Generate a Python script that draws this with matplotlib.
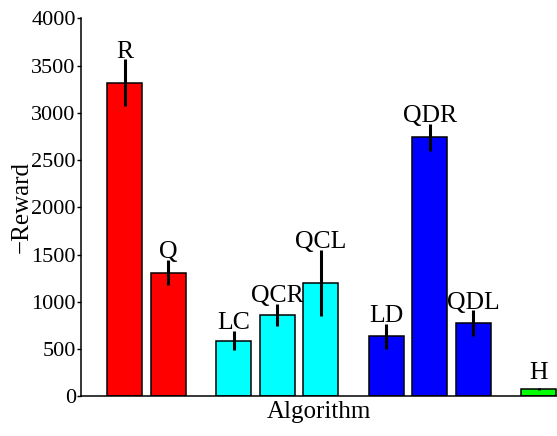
import matplotlib
matplotlib.use("Agg")
import matplotlib.pyplot as plt

plt.rcParams['font.family'] = ['Liberation Serif', 'DejaVu Serif']

names = ["R", "Q", "LC", "QCR", "QCL", "LD", "QDR", "QDL", "H"]
positions = [1, 2, 3.5, 4.5, 5.5, 7, 8, 9, 10.5]
rewards = [3320, 1310, 590, 860, 1200, 635, 2740, 775, 80]
errors = [245, 137, 100, 114, 350, 134, 140, 134, 8]
colors = ["#ff0000", "#ff0000", "#00ffff", "#00ffff", "#00ffff",
          "#0000ff", "#0000ff", "#0000ff", "#00ff00"]
yticks = [0, 500, 1000, 1500, 2000, 2500, 3000, 3500, 4000]

fig = plt.figure(figsize=(5.57, 4.36), dpi=100)
ax = fig.add_axes([0.146, 0.091, 0.854, 0.867])

ax.bar(positions, rewards, width=0.8, color=colors, edgecolor="black", linewidth=1.1)
ax.errorbar(positions, rewards, yerr=errors, fmt="none", ecolor="black",
            elinewidth=2.2, capsize=0)
for x, v, e, n in zip(positions, rewards, errors, names):
    # label sits just above the error bar (H's bar is tiny, keep it clear)
    top = max(v + e, 160)
    ax.text(x, top + 20, n, ha="center", va="baseline", fontsize=18.5)

ax.set_xlim(0, 10.92)
ax.set_ylim(0, 4000)
ax.set_yticks(yticks)
ax.set_xticks([])
ax.tick_params(axis="y", labelsize=16, direction="out", length=3, width=1, pad=1)
ax.spines["top"].set_visible(False)
ax.spines["right"].set_visible(False)
ax.spines["left"].set_linewidth(1.1)
ax.spines["bottom"].set_linewidth(1.1)
ax.set_xlabel("Algorithm", fontsize=18, labelpad=3.5)
ax.set_ylabel("\u2212Reward", fontsize=18, labelpad=-1)

fig.savefig("out.png", dpi=100)
